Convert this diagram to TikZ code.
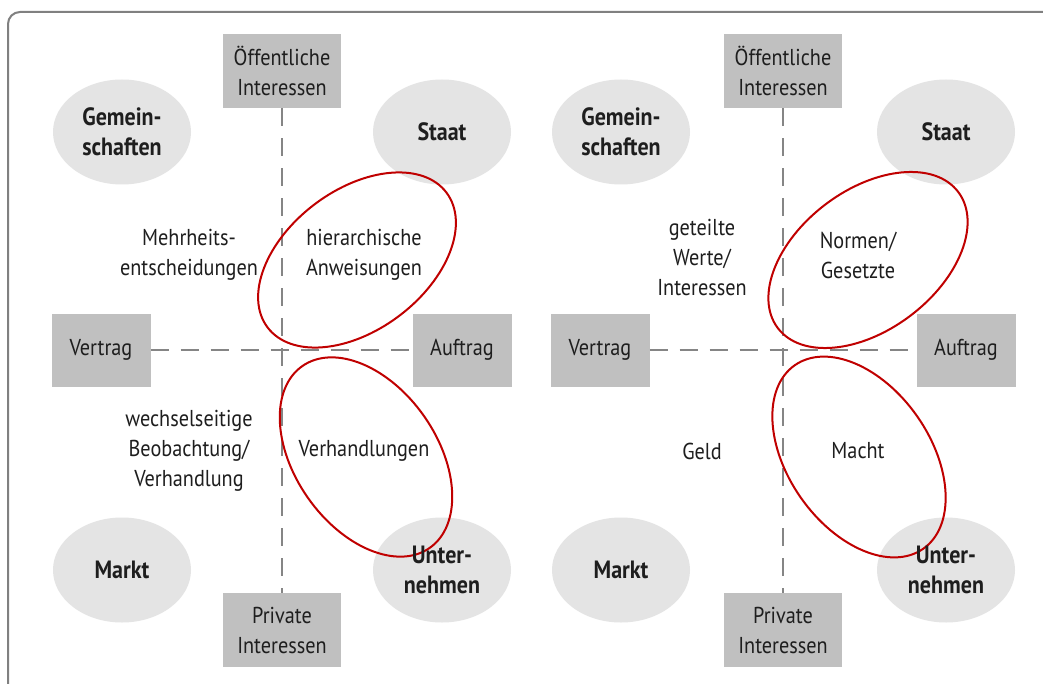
\documentclass[tikz,border=0pt]{standalone}
\usepackage{fontspec}
\setmainfont{PT Sans}[FakeStretch=0.88]
\usepackage{tikz}
\usetikzlibrary{shapes.geometric}
\definecolor{boxgray}{HTML}{C0C0C0}
\definecolor{blobgray}{HTML}{E4E4E4}
\definecolor{axisgray}{HTML}{858585}
\definecolor{ringred}{HTML}{C00000}
\definecolor{inkgray}{HTML}{1E1E1E}
\colorlet{framegray}{black!50}
\newcommand{\diafont}{\fontsize{23}{30}\selectfont}
\newcommand{\blobfont}{\fontsize{25}{30}\selectfont\bfseries}
\tikzstyle{axisbox} = [
    fill=boxgray,
    rectangle,
    inner sep=0pt,
    align=center,
    minimum width=118pt,
    minimum height=74pt
    ]
\tikzstyle{sidebox} = [
    axisbox,
    minimum width=99pt,
    minimum height=73pt
    ]
\tikzstyle{blob} = [
    fill=blobgray,
    ellipse,
    inner sep=0pt,
    minimum width=138pt,
    minimum height=105pt
    ]
\tikzstyle{blobtext} = [
    font=\blobfont,
    align=center,
    inner sep=0pt
    ]
\tikzstyle{plain} = [
    align=center,
    inner sep=0pt
    ]
\tikzstyle{ring} = [
    draw=ringred,
    line width=2pt,
    ellipse,
    inner sep=0pt,
    minimum width=224pt,
    minimum height=140pt
    ]
\tikzstyle{axisline} = [
    draw=axisgray,
    line width=2.2pt,
    dash pattern=on 18pt off 12pt
    ]

\begin{document}
\begin{tikzpicture}[x=1pt, y=-1pt, font=\diafont, text=inkgray]
\useasboundingbox (0,0) rectangle (1043,684);
\fill[white] (0,0) rectangle (1043,684);
\draw[framegray, line width=2pt, rounded corners=12pt] (8,12) rectangle (1075,715);

% left panel
\node[axisbox] (oeffL) at (282,71) {Öffentliche\\Interessen};
\node[axisbox] (privL) at (282,630) {Private\\Interessen};
\node[sidebox] (vertL) at (101,350) {Vertrag};
\node[sidebox] (aufL) at (462,350) {Auftrag};
\draw[axisline] (oeffL) -- (privL);
\draw[axisline] (vertL) -- (aufL);

\node[blob] (gemL) at (122,132) {};
\node[blob] (staatL) at (442,132) {};
\node[blob] (marktL) at (122,570) {};
\node[blob] (untL) at (442,570) {};

\node[ring, rotate=37] (hierL) at (357,260) {};
\node[ring, rotate=-55, minimum width=222pt, minimum height=142pt] (verhL) at (366,457) {};

\node[blobtext] (gemLt) at (gemL) {Gemein-\\schaften};
\node[blobtext] (staatLt) at (staatL) {Staat};
\node[blobtext] (marktLt) at (marktL) {Markt};
\node[blobtext] (untLt) at (untL) {Unter-\\nehmen};

\node[plain] (mehrL) at (189,255) {Mehrheits-\\entscheidungen};
\node[plain] (anwL) at (364,255) {hierarchische\\Anweisungen};
\node[plain] (beobL) at (189,451) {wechselseitige\\Beobachtung/\\Verhandlung};
\node[plain] (vhdL) at (364,451) {Verhandlungen};

% right panel
\node[axisbox] (oeffR) at (783,71) {Öffentliche\\Interessen};
\node[axisbox] (privR) at (783,630) {Private\\Interessen};
\node[sidebox] (vertR) at (600,350) {Vertrag};
\node[sidebox] (aufR) at (966,350) {Auftrag};
\draw[axisline] (oeffR) -- (privR);
\draw[axisline] (vertR) -- (aufR);

\node[blob] (gemR) at (621,132) {};
\node[blob] (staatR) at (946,132) {};
\node[blob] (marktR) at (621,570) {};
\node[blob] (untR) at (946,570) {};

\node[ring, rotate=37, minimum width=226pt] (normR) at (868,260) {};
\node[ring, rotate=-55, minimum width=224pt, minimum height=142pt] (machtR) at (859,457) {};

\node[blobtext] (gemRt) at (gemR) {Gemein-\\schaften};
\node[blobtext] (staatRt) at (staatR) {Staat};
\node[blobtext] (marktRt) at (marktR) {Markt};
\node[blobtext] (untRt) at (untR) {Unter-\\nehmen};

\node[plain] (werteR) at (702,257) {geteilte\\Werte/\\Interessen};
\node[plain] (gesR) at (858,255) {Normen/\\Gesetzte};
\node[plain] (geldR) at (702,451) {Geld};
\node[plain] (machtRt) at (858,451) {Macht};
\end{tikzpicture}
\end{document}
